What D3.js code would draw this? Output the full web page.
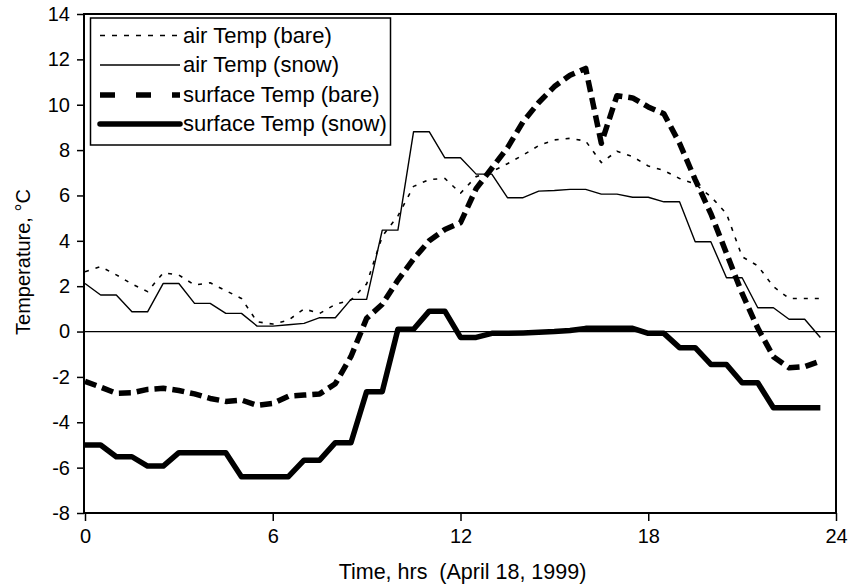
<!DOCTYPE html>
<html>
<head>
<meta charset="utf-8">
<script src="https://cdn.jsdelivr.net/npm/d3@7"></script>
<style>
  html, body { margin: 0; padding: 0; background: #fff; }
  svg { display: block; font-family: "Liberation Sans", Arial, Helvetica, sans-serif; }
</style>
</head>
<body>
<svg id="chart" width="849" height="587"></svg>
<script>
// ---- data ----
const hours = [0, 0.5, 1, 1.5, 2, 2.5, 3, 3.5, 4, 4.5, 5, 5.5, 6, 6.5, 7, 7.5, 8, 8.5, 9, 9.5,
  10, 10.5, 11, 11.5, 12, 12.5, 13, 13.5, 14, 14.5, 15, 15.5, 16, 16.5, 17, 17.5, 18, 18.5, 19, 19.5,
  20, 20.5, 21, 21.5, 22, 22.5, 23, 23.5];

const airBare = [2.64, 2.86, 2.5, 2.1, 1.76, 2.59, 2.49, 2.05, 2.15, 1.8, 1.46, 0.43, 0.33, 0.5, 1.0, 0.8,
  1.2, 1.39, 2.1, 4.2, 5.1, 6.4, 6.7, 6.75, 6.1, 6.83, 7.05, 7.4, 7.78, 8.2, 8.45, 8.52, 8.4, 7.45, 7.95,
  7.71, 7.3, 7.1, 6.75, 6.5, 5.95, 5.2, 3.3, 2.9, 1.98, 1.46, 1.46, 1.46];

const airSnow = [2.12, 1.61, 1.61, 0.87, 0.87, 2.12, 2.12, 1.24, 1.24, 0.80, 0.80, 0.24, 0.24, 0.3, 0.36,
  0.61, 0.61, 1.42, 1.42, 4.47, 4.47, 8.81, 8.81, 7.66, 7.66, 6.94, 6.94, 5.9, 5.9, 6.19, 6.22, 6.27, 6.27,
  6.06, 6.06, 5.92, 5.92, 5.72, 5.72, 3.96, 3.96, 2.37, 2.37, 1.05, 1.05, 0.54, 0.54, -0.26];

const surfBare = [-2.2, -2.45, -2.72, -2.7, -2.55, -2.5, -2.6, -2.75, -2.95, -3.08, -3.02, -3.25, -3.17,
  -2.85, -2.8, -2.75, -2.3, -1.1, 0.58, 1.2, 2.27, 3.2, 4.0, 4.5, 4.8, 6.3, 7.2, 8.1, 9.25, 10.1, 10.8,
  11.3, 11.6, 8.3, 10.4, 10.3, 9.9, 9.6, 8.3, 6.7, 5.2, 3.45, 1.68, 0.15, -1.11, -1.6, -1.55, -1.3];

const surfSnow = [-5.0, -5.0, -5.52, -5.52, -5.93, -5.93, -5.34, -5.34, -5.34, -5.34, -6.4, -6.4, -6.4,
  -6.4, -5.67, -5.67, -4.9, -4.9, -2.65, -2.65, 0.1, 0.1, 0.9, 0.9, -0.26, -0.26, -0.08, -0.08, -0.06,
  -0.03, 0.0, 0.05, 0.14, 0.14, 0.14, 0.14, -0.08, -0.08, -0.71, -0.71, -1.45, -1.45, -2.26, -2.26,
  -3.36, -3.36, -3.36, -3.36];

const seriesNames = ["air Temp (bare)", "air Temp (snow)", "surface Temp (bare)", "surface Temp (snow)"];
const xTicks = [0, 6, 12, 18, 24];
const yTicks = [-8, -6, -4, -2, 0, 2, 4, 6, 8, 10, 12, 14];
const xTitle = "Time, hrs  (April 18, 1999)";
const yTitle = "Temperature, °C";

// ---- layout ----
const L = 85, R = 836, T = 14, B = 513;
const svg = d3.select("#chart");
const x = d3.scaleLinear().domain([0, 24]).range([L, R]);
const y = d3.scaleLinear().domain([-8, 14]).range([B, T]);

const styles = [
  { w: 1.6, dash: "4,7", legDash: "5,7" },
  { w: 1.4, dash: null, legDash: null },
  { w: 5.5, dash: "12,6", legDash: "15,21" },
  { w: 5.5, dash: null, legDash: null }
];
const allSeries = [airBare, airSnow, surfBare, surfSnow];

// zero line
svg.append("line")
  .attr("x1", L).attr("x2", R).attr("y1", y(0)).attr("y2", y(0))
  .attr("stroke", "#000").attr("stroke-width", 1.2);

// series
const line = d3.line().x(d => x(d[0])).y(d => y(d[1]));
allSeries.forEach((vals, i) => {
  const pts = hours.map((h, k) => [h, vals[k]]);
  const p = svg.append("path")
    .attr("d", line(pts))
    .attr("fill", "none")
    .attr("stroke", "#000")
    .attr("stroke-width", styles[i].w)
    .attr("stroke-linejoin", "round");
  if (styles[i].dash) p.attr("stroke-dasharray", styles[i].dash);
});

// frame
svg.append("rect")
  .attr("x", L - 1).attr("y", T).attr("width", R - L + 1).attr("height", B - T)
  .attr("fill", "none").attr("stroke", "#000").attr("stroke-width", 2);

// axes
const fs = 20;
const fmt = d => String(d);
const xAxis = svg.append("g").attr("transform", `translate(0,${B})`)
  .call(d3.axisBottom(x).tickValues(xTicks).tickSize(8).tickPadding(8).tickFormat(fmt));
xAxis.select(".domain").remove();
xAxis.selectAll("line").attr("stroke-width", 1.5);
xAxis.selectAll("text").attr("font-size", fs).attr("font-family", null).attr("fill", "#000");

const yAxis = svg.append("g").attr("transform", `translate(${L - 1},0)`)
  .call(d3.axisLeft(y).tickValues(yTicks).tickSize(7).tickPadding(7).tickFormat(fmt));
yAxis.select(".domain").remove();
yAxis.selectAll("line").attr("stroke-width", 1.5);
yAxis.selectAll("text").attr("font-size", fs).attr("font-family", null).attr("fill", "#000");

// titles
svg.append("text").attr("x", (L + R) / 2 + 2).attr("y", 579)
  .attr("text-anchor", "middle").attr("font-size", 21.5)
  .style("white-space", "pre").text(xTitle);
svg.append("text").attr("transform", "translate(30,262) rotate(-90)")
  .attr("text-anchor", "middle").attr("font-size", 20).text(yTitle);

// legend
const lg = svg.append("g");
lg.append("rect").attr("x", 90.5).attr("y", 18).attr("width", 300).attr("height", 127)
  .attr("fill", "#fff").attr("stroke", "#000").attr("stroke-width", 1.5);
const rowY = [35.5, 65, 95, 124];
seriesNames.forEach((name, i) => {
  const cy = rowY[i];
  const l = lg.append("line").attr("x1", 100).attr("x2", 180).attr("y1", cy).attr("y2", cy)
    .attr("stroke", "#000").attr("stroke-width", styles[i].w)
    .attr("stroke-linecap", i === 3 ? "round" : "butt");
  if (styles[i].legDash) l.attr("stroke-dasharray", styles[i].legDash);
  lg.append("text").attr("x", 183).attr("y", cy + 7).attr("font-size", 22).text(name);
});
</script>
</body>
</html>
